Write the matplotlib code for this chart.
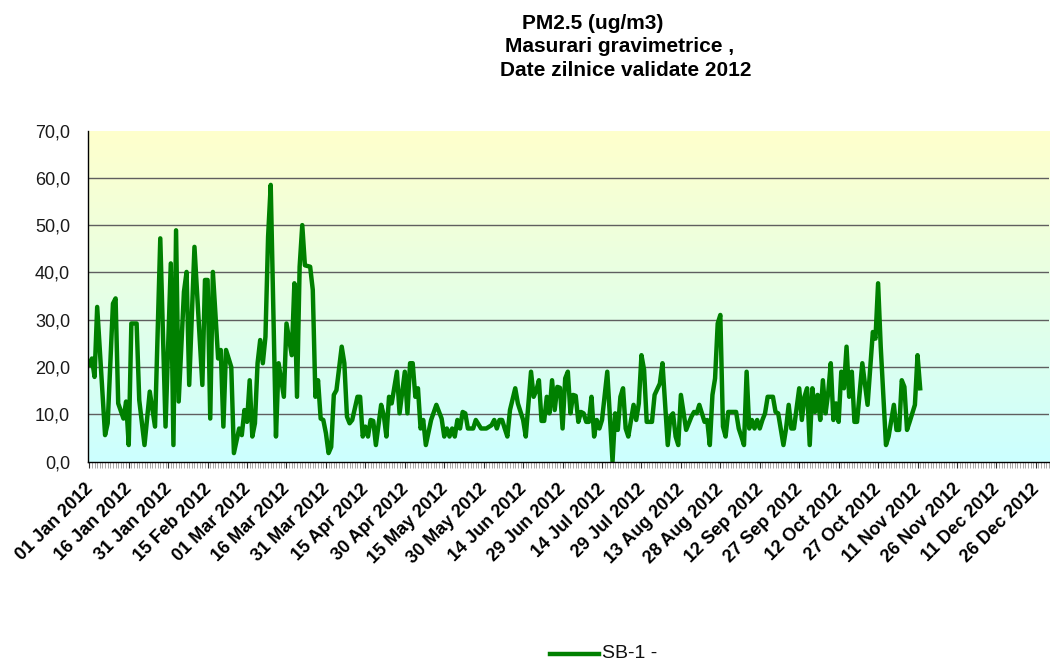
import numpy as np
import matplotlib
matplotlib.use("Agg")
import matplotlib.pyplot as plt
import matplotlib.dates as mdates
from matplotlib.transforms import offset_copy
from matplotlib.colors import LinearSegmentedColormap

# ---------------- data ----------------
year_start = "2012-01-01"
day_offsets = [0, 1, 2, 3, 6, 7, 9, 10, 11, 13, 14, 15, 16, 18, 19, 21, 23, 25, 27, 29,
               31, 32, 33, 34, 36, 37, 38, 40, 43, 44, 45, 46, 47, 49, 50, 51, 52, 54, 55, 57,
               58, 59, 60, 61, 62, 63, 64, 65, 66, 67, 68, 69, 71, 72, 73, 74, 75, 77, 78, 79,
               80, 81, 82, 84, 85, 86, 87, 88, 89, 90, 91, 92, 93, 94, 96, 97, 98, 99, 100, 102,
               103, 104, 105, 106, 107, 108, 109, 111, 112, 113, 114, 115, 117, 118, 120, 121, 122, 123, 124, 125,
               126, 127, 128, 130, 132, 134, 135, 136, 137, 138, 139, 140, 141, 142, 143, 144, 146, 147, 149, 151,
               153, 154, 155, 156, 157, 158, 159, 160, 162, 163, 165, 166, 168, 169, 170, 171, 172, 173, 174, 175,
               176, 177, 178, 179, 180, 181, 182, 183, 184, 185, 186, 187, 188, 189, 190, 191, 192, 193, 194, 195,
               197, 199, 200, 201, 202, 203, 204, 205, 207, 208, 209, 210, 211, 212, 214, 215, 217, 218, 220, 221,
               222, 223, 224, 225, 227, 229, 230, 231, 232, 234, 235, 236, 237, 238, 239, 240, 241, 242, 243, 246,
               247, 248, 249, 250, 251, 252, 253, 254, 255, 256, 257, 258, 260, 261, 262, 264, 265, 266, 267, 268,
               270, 271, 272, 273, 274, 275, 276, 277, 278, 279, 280, 281, 282, 283, 284, 285, 286, 287, 288, 289,
               290, 291, 292, 294, 296, 298, 299, 300, 301, 303, 304, 306, 307, 308, 309, 310, 311, 312, 314, 315,
               316]
pm25 = [20.5, 21.8, 17.9, 32.7, 5.6, 8.1, 33.4, 34.5, 12.3, 9.1, 12.7, 3.5, 29.2, 29.2, 13.0, 3.5, 14.8, 7.4, 47.2, 7.4,
        41.9, 3.5, 48.9, 12.7, 35.9, 40.1, 16.2, 45.4, 16.2, 38.4, 38.4, 9.1, 40.1, 21.8, 23.6, 7.4, 23.6, 20.0, 1.8, 7.0,
        5.6, 10.9, 8.4, 17.2, 5.3, 8.1, 20.8, 25.7, 20.8, 26.4, 47.5, 58.5, 5.3, 20.8, 17.2, 13.7, 29.2, 22.5, 37.7, 13.7,
        41.2, 50.0, 41.5, 41.2, 36.3, 13.7, 17.2, 9.1, 8.8, 6.0, 1.8, 3.1, 14.1, 15.1, 24.3, 20.8, 9.5, 8.1, 8.8, 13.7,
        13.7, 5.3, 7.4, 5.3, 8.8, 8.6, 3.5, 12.0, 9.8, 5.3, 13.7, 12.3, 19.0, 10.2, 19.0, 10.2, 20.8, 20.8, 13.7, 15.5,
        7.0, 8.8, 3.5, 8.8, 12.0, 9.1, 5.3, 7.0, 5.3, 7.0, 5.3, 8.8, 7.0, 10.5, 10.2, 7.0, 7.0, 8.8, 7.0, 7.0,
        7.7, 8.8, 7.0, 8.8, 8.8, 7.0, 5.3, 10.9, 15.5, 12.3, 8.8, 5.3, 19.0, 13.7, 15.0, 17.2, 8.6, 8.6, 13.7, 10.2,
        17.2, 10.9, 15.8, 15.6, 7.0, 17.6, 19.0, 10.2, 14.1, 13.9, 8.4, 10.5, 10.2, 8.4, 8.4, 13.7, 5.3, 8.8, 7.0, 8.8,
        19.0, 0.0, 10.2, 6.7, 13.7, 15.5, 7.0, 5.3, 12.0, 8.8, 12.3, 22.5, 19.4, 8.4, 8.4, 14.1, 16.5, 20.8, 3.5, 9.5,
        10.2, 5.3, 3.5, 14.1, 6.7, 9.5, 10.5, 10.2, 12.0, 8.4, 8.8, 3.5, 14.1, 17.6, 29.2, 31.0, 7.4, 5.3, 10.5, 10.5,
        7.0, 5.3, 3.5, 19.0, 7.0, 8.8, 7.0, 8.8, 7.0, 8.8, 10.2, 13.7, 13.7, 10.5, 10.2, 3.5, 7.0, 12.0, 7.0, 7.0,
        15.5, 8.8, 13.7, 15.5, 3.5, 15.5, 10.5, 14.1, 8.8, 17.2, 10.2, 14.4, 20.8, 8.8, 12.3, 8.4, 19.0, 15.5, 24.3, 13.7,
        19.0, 8.4, 8.4, 20.8, 12.0, 27.4, 26.0, 37.7, 24.3, 3.5, 5.3, 12.0, 6.7, 6.7, 17.2, 15.8, 6.7, 8.4, 12.0, 22.5,
        15.5]
series_name = "SB-1 -"
title_lines = ["PM2.5 (ug/m3)", "Masurari gravimetrice ,", "Date zilnice validate 2012"]
y_ticks = [0, 10, 20, 30, 40, 50, 60, 70]
x_tick_step_days = 15
x_tick_count = 25

# ---------------- figure ----------------
W, H = 1050, 663
fig = plt.figure(figsize=(W / 100, H / 100), dpi=100)
plt.rcParams['font.family'] = ['Liberation Sans', 'DejaVu Sans']

ax_left, ax_right, ax_top, ax_bot = 87.5, 1049, 130.5, 461.6
ax = fig.add_axes([ax_left / W, 1 - ax_bot / H, (ax_right - ax_left) / W, (ax_bot - ax_top) / H])

start = np.datetime64(year_start)
x = mdates.date2num(start + np.array(day_offsets).astype('timedelta64[D]'))
x0 = mdates.date2num(start)

# gradient background
cmap = LinearSegmentedColormap.from_list("bg", ["#CCFFFF", "#FFFFCC"])
grad = np.linspace(0, 1, 256).reshape(-1, 1)
ax.imshow(grad, cmap=cmap, origin='lower', extent=[0, 1, 0, 1], transform=ax.transAxes,
          aspect='auto', zorder=0)

ax.plot(x, pm25, color="#008000", lw=3.2, solid_joinstyle='round', zorder=3)

ax.set_xlim(x0 - 0.68, x0 + 362.8)
ax.set_ylim(0, 70)

for v in y_ticks[1:-1]:
    ax.axhline(v, color="#5f5f5f", lw=1.0, zorder=1)

ax.set_yticks(y_ticks)
ax.set_yticklabels([f"{v:.1f}".replace('.', ',') for v in y_ticks], fontsize=13, color="#1a1a1a")
ax.tick_params(axis='y', length=0, pad=12.5)

major = [x0 + i * x_tick_step_days for i in range(x_tick_count)]
ax.set_xticks(major)
ax.set_xticks(x0 + np.arange(0, 366), minor=True)
ax.tick_params(axis='x', which='major', length=4, width=0.8, color="#333333", labelbottom=False)
ax.tick_params(axis='x', which='minor', length=4, width=0.45, color="#777777")

lab_tr = offset_copy(ax.get_xaxis_transform(), fig=fig, x=1, y=-25, units='dots')
for m in major:
    lbl = mdates.num2date(m).strftime("%d %b %Y")
    ax.text(m, 0, lbl, transform=lab_tr, rotation=45, rotation_mode='anchor',
            ha='right', va='center', fontsize=13, fontweight='bold', color="#000000", clip_on=False)

for s in ['top', 'right']:
    ax.spines[s].set_visible(False)
for s in ['left', 'bottom']:
    ax.spines[s].set_color("#000000")
    ax.spines[s].set_linewidth(1.0)
    ax.spines[s].set_zorder(4)

# title
title_pos = [(592.2, 29.3), (620.0, 52.3), (625.5, 76.0)]
for t, (px, py) in zip(title_lines, title_pos):
    fig.text(px / W, 1 - py / H, t, ha='center', va='baseline', fontsize=15, fontweight='bold')

# legend
fig.add_artist(plt.Line2D([550 / W, 599 / W], [1 - 653.5 / H, 1 - 653.5 / H], color="#008000", lw=3.2))
fig.text(602 / W, 1 - 662.5 / H, series_name, ha='left', va='bottom', fontsize=14, color="#111111")

fig.savefig("out.png", dpi=100)
